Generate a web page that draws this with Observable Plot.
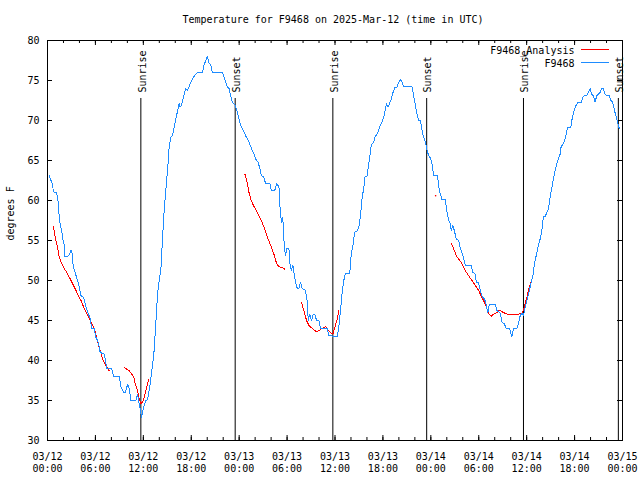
<!DOCTYPE html>
<html><head><meta charset="utf-8">
<script src="https://cdn.jsdelivr.net/npm/d3@7"></script>
<script src="https://cdn.jsdelivr.net/npm/@observablehq/plot@0.6"></script>
<style>body{margin:0;background:#fff}</style>
</head><body><div id="chart"></div>
<script>
const titleText = "Temperature for F9468 on 2025-Mar-12 (time in UTC)";
const yLabel = "degrees F";
const seriesNames = ["F9468_Analysis", "F9468"];
const seriesColors = ["#ff0000", "#1e8cff"];
const startTime = "2025-03-12T00:00:00Z";
const spanHours = 72;

// Observed station temperatures (hours since 03/12 00:00 UTC, degrees F)
const obsHours = [0.23,0.44,0.65,0.73,1.06,1.28,1.35,1.48,1.6,1.78,1.9,2.1,2.19,2.53,2.73,2.94,3.06,3.23,3.48,3.69,3.98,4.19,4.53,4.81,5.35,5.53,5.85,6.06,6.35,6.6,7.1,7.44,8.03,8.28,8.98,9.19,9.53,9.73,10.03,10.23,10.44,11.06,11.28,11.48,11.69,11.78,11.9,12.1,12.31,12.53,12.73,12.94,13.15,13.35,13.56,13.78,13.98,14.19,14.56,14.81,15.15,15.23,15.44,15.65,15.85,16.19,16.48,16.6,16.78,17.03,17.31,17.53,17.73,17.94,18.15,18.56,18.78,19.4,19.6,19.81,20.03,20.23,20.44,20.65,21.9,22.1,22.31,22.53,22.73,22.94,23.15,23.48,23.78,23.98,24.19,24.4,24.81,25.23,25.65,25.85,26.06,26.35,26.6,26.78,27.1,27.31,27.85,28.03,28.44,28.69,28.98,29.1,29.19,29.31,29.4,29.53,29.6,29.69,29.81,29.94,30.23,30.35,30.53,30.73,30.85,31.06,31.28,31.48,31.69,31.9,32.31,32.53,32.65,32.85,33.06,33.28,33.48,33.69,33.98,34.19,35.03,35.23,36.28,36.48,36.69,36.9,37.1,37.31,37.85,38.03,38.28,38.44,38.78,38.98,39.19,39.4,39.6,39.73,40.03,40.23,40.35,40.53,40.85,40.98,41.28,41.6,41.9,42.1,42.23,42.44,42.65,42.81,43.03,43.19,43.48,43.78,43.98,44.19,44.4,44.6,45.65,45.85,46.06,46.28,46.48,46.69,46.9,47.1,47.31,47.53,47.73,47.94,48.15,48.35,48.85,48.98,49.19,49.4,49.81,50.03,50.23,50.44,50.56,50.73,50.94,51.19,51.48,51.69,52.03,52.31,53.03,53.28,53.56,53.69,53.98,54.19,54.48,54.73,54.94,55.15,55.31,56.06,56.28,56.69,56.9,57.19,57.44,57.85,58.15,58.35,58.78,58.98,59.19,59.4,59.6,59.81,60.03,60.23,60.53,60.78,60.98,61.19,61.48,61.69,61.9,62.1,62.31,62.53,62.73,62.94,63.31,63.56,63.78,63.98,64.19,64.31,64.6,64.81,64.94,65.1,65.53,65.65,65.78,65.94,66.19,66.4,66.81,67.03,67.19,67.53,67.73,67.94,68.15,68.35,68.56,68.78,68.98,69.19,69.4,69.6,69.81,70.03,70.35,70.56,70.78,70.85,71.06,71.28,71.48,71.6];
const obsTemps = [63.1,62.5,61.9,61.1,61.0,60.5,59.4,57.9,56.9,56.25,55.25,54.4,53.0,53.0,53.2,53.8,53.5,51.7,50.9,50.25,49.2,48.1,47.9,46.7,45.2,44.0,44.0,42.9,42.3,41.0,40.8,39.0,39.0,38.0,38.0,36.7,36.0,36.0,37.0,36.5,35.0,35.0,35.8,34.6,33.5,32.9,33.5,34.4,35.0,35.1,36.25,37.7,39.4,41.25,44.6,48.3,50.0,51.25,58.1,61.25,65.2,66.7,67.9,68.1,69.1,70.75,72.1,71.7,71.9,72.9,74.0,73.75,74.2,74.8,75.2,75.8,76.0,76.0,76.9,77.5,78.0,77.2,77.0,76.0,76.0,75.4,74.8,74.2,74.0,73.1,72.3,71.9,71.0,70.2,69.4,69.0,68.1,67.3,66.25,65.8,65.2,64.8,64.0,63.1,62.9,62.1,62.1,61.2,61.2,62.1,61.7,59.4,58.1,57.3,57.9,57.1,55.2,54.0,53.1,54.0,54.0,52.1,51.25,51.9,51.0,49.8,49.0,49.0,49.8,49.0,48.75,47.3,45.0,45.8,45.0,45.8,45.8,45.0,45.0,44.0,44.0,43.1,43.0,44.2,46.25,48.5,50.0,50.9,50.9,53.3,54.6,56.0,56.2,56.7,58.0,60.4,61.5,62.9,63.1,64.6,65.4,66.9,67.3,67.9,68.3,69.2,69.8,70.4,71.0,72.1,71.7,72.1,72.6,73.3,74.1,74.2,74.8,75.1,74.8,74.2,74.2,73.1,71.9,70.8,70.0,70.0,68.75,67.9,67.3,66.25,65.6,65.3,64.6,63.1,63.1,61.7,60.8,60.1,60.1,58.5,57.5,57.1,56.25,56.9,56.25,55.2,55.0,54.0,53.1,51.9,51.9,51.0,50.8,49.8,49.7,48.75,47.9,47.7,46.9,46.0,47.0,47.0,46.25,45.9,44.8,44.6,44.0,44.0,43.0,44.0,44.0,44.7,45.6,45.9,45.6,46.7,47.5,48.3,49.6,50.6,52.1,53.1,54.4,55.2,56.25,58.0,58.0,58.5,59.0,60.4,62.5,63.75,64.6,65.2,65.8,66.7,67.1,67.7,68.3,69.1,69.1,70.0,70.6,71.25,71.9,72.2,72.2,72.9,73.1,73.1,73.5,74.0,73.3,73.1,72.3,73.1,73.3,73.5,74.0,74.0,73.3,73.1,73.1,72.5,72.3,71.9,71.0,70.2,69.4,69.0];

// Analysis temperatures (null = gap between analysis runs)
const anaHours = [0.73,1.06,1.28,1.48,1.69,1.9,2.1,2.53,2.94,3.35,3.78,4.19,4.6,5.03,5.44,5.78,6.06,6.28,6.6,6.9,7.31,7.73,null,
  9.69,10.23,10.78,10.98,11.28,11.48,11.69,11.9,12.1,12.31,12.53,12.73,null,
  24.73,25.03,25.23,25.44,25.78,26.28,26.69,27.1,27.53,27.94,28.35,28.69,28.98,29.4,29.73,null,
  31.78,32.1,32.44,32.73,33.15,33.69,33.98,34.4,34.81,35.15,35.44,35.73,36.06,36.28,36.48,null,
  48.6,null,
  50.56,50.85,51.19,51.48,51.9,52.31,52.73,53.15,53.56,53.98,54.4,54.69,54.94,55.15,55.56,55.85,56.28,56.56,56.9,57.31,57.73,58.35,58.98,59.4,59.6,59.81,60.03,60.23,60.53];
const anaTemps = [56.7,55.0,54.0,52.9,52.3,51.9,51.5,50.8,50.0,49.2,48.3,47.5,46.5,45.6,44.8,44.2,43.3,42.3,41.25,40.2,39.4,38.7,null,
  39.1,38.7,38.0,37.1,36.25,35.2,34.6,34.8,35.4,36.25,37.1,37.7,null,
  63.25,62.1,61.0,60.2,59.4,58.5,57.7,56.7,55.4,54.4,53.3,52.1,51.75,51.6,51.4,null,
  47.3,46.25,45.0,44.4,44.0,43.6,43.75,44.0,44.25,43.75,43.5,43.3,44.4,45.2,46.25,null,
  60.6,null,
  54.6,54.0,53.1,52.7,52.1,51.25,50.6,50.0,49.4,48.75,47.9,47.3,46.7,46.0,45.5,45.8,46.0,46.3,46.1,45.9,45.75,45.75,45.8,45.9,46.25,47.1,47.9,48.8,49.8];

const sunEvents = ["Sunrise","Sunset","Sunrise","Sunset","Sunrise","Sunset"];
const sunHours = [11.69, 23.5, 35.73, 47.48, 59.6, 71.48];

const xTickHours = [0,6,12,18,24,30,36,42,48,54,60,66,72];
const xTickLabels = ["03/12\n00:00","03/12\n06:00","03/12\n12:00","03/12\n18:00","03/13\n00:00","03/13\n06:00","03/13\n12:00","03/13\n18:00","03/14\n00:00","03/14\n06:00","03/14\n12:00","03/14\n18:00","03/15\n00:00"];
const xMinorHours = d3.range(0, 73, 2);
const yTicks = [30,35,40,45,50,55,60,65,70,75,80];

const t0 = new Date(startTime).getTime();
const toDate = h => (h == null ? null : new Date(t0 + h * 3600e3));

const obs = obsHours.slice(0, Math.min(obsHours.length, obsTemps.length))
  .map((h, i) => ({time: toDate(h), temp: obsTemps[i]}));
const ana = anaHours.map((h, i) => ({time: toDate(h), temp: anaTemps[i]}));
const anaSingles = ana.filter((d, i) => d.temp != null &&
  (i === 0 || ana[i-1].temp == null) && (i === ana.length - 1 || ana[i+1].temp == null));

const font = "'DejaVu Sans Mono', monospace";

const chart = Plot.plot({
  width: 640, height: 480,
  marginLeft: 47, marginRight: 18, marginTop: 40, marginBottom: 40,
  x: {type: "utc", domain: [toDate(0), toDate(spanHours)], axis: null},
  y: {domain: [30, 80], axis: null},
  style: {fontFamily: font, fontSize: "10px", background: "#fff", color: "#000", overflow: "visible"},
  marks: [
    Plot.frame({stroke: "#000"}),
    // x ticks (bottom & top, inward)
    Plot.ruleX(xTickHours, {x: toDate, insetTop: 395, stroke: "#000"}),
    Plot.ruleX(xTickHours, {x: toDate, insetBottom: 395, stroke: "#000"}),
    Plot.ruleX(xMinorHours, {x: toDate, insetTop: 397, stroke: "#000"}),
    Plot.ruleX(xMinorHours, {x: toDate, insetBottom: 397, stroke: "#000"}),
    // y ticks (left & right, inward)
    Plot.ruleY(yTicks, {y: d => d, insetRight: 570, stroke: "#000"}),
    Plot.ruleY(yTicks, {y: d => d, insetLeft: 570, stroke: "#000"}),
    // sunrise / sunset lines
    Plot.ruleX(sunHours, {x: toDate, insetTop: 58, stroke: "#000"}),
    // data
    Plot.line(ana, {x: "time", y: "temp", stroke: seriesColors[0], strokeWidth: 1, shapeRendering: "crispEdges"}),
    Plot.dot(anaSingles, {x: "time", y: "temp", r: 0.8, fill: seriesColors[0], stroke: null}),
    Plot.line(obs, {x: "time", y: "temp", stroke: seriesColors[1], strokeWidth: 1, shapeRendering: "crispEdges"}),
    // sun labels
    Plot.text(sunHours, {x: toDate, text: (d, i) => sunEvents[i], frameAnchor: "top", lineAnchor: "middle", dy: 52, dx: 1.5, rotate: -90, textAnchor: "start", fill: "#000"}),
    // x tick labels
    Plot.text(xTickHours, {x: toDate, text: (d, i) => xTickLabels[i], frameAnchor: "bottom", dy: 10, lineAnchor: "top", lineHeight: 1.27, fill: "#000"}),
    // y tick labels
    Plot.text(yTicks, {y: d => d, text: d => String(d), frameAnchor: "left", lineAnchor: "middle", dx: -8, textAnchor: "end", fill: "#000"}),
    // y axis label
    Plot.text([yLabel], {text: d => d, frameAnchor: "left", lineAnchor: "middle", dx: -37, rotate: -90, fill: "#000"}),
    // title
    Plot.text([titleText], {text: d => d, frameAnchor: "top", lineAnchor: "middle", dy: -21, dx: -2, fill: "#000"}),
    // legend labels
    Plot.text([seriesNames[0]], {text: d => d, frameAnchor: "top-right", lineAnchor: "middle", dx: -48, dy: 10, textAnchor: "end", fill: "#000"}),
    Plot.text([seriesNames[1]], {text: d => d, frameAnchor: "top-right", lineAnchor: "middle", dx: -48, dy: 23, textAnchor: "end", fill: "#000"})
  ]
});

// legend swatches
const svg = d3.select(chart);
const right = 640 - 18;
[[seriesColors[0], 49.5], [seriesColors[1], 62.5]].forEach(([c, y]) => {
  svg.append("line").attr("x1", right - 41).attr("x2", right - 13)
    .attr("y1", y).attr("y2", y).attr("stroke", c).attr("stroke-width", 1)
    .attr("shape-rendering", "crispEdges");
});

document.getElementById("chart").appendChild(chart);
</script>
</body></html>
